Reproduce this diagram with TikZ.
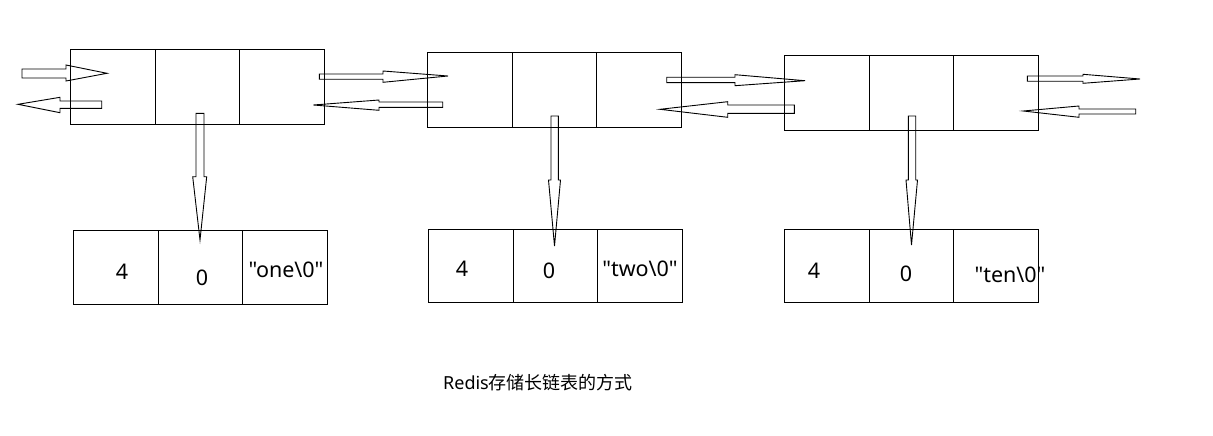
\documentclass[tikz,border=0pt]{standalone}
\usepackage{fontspec}
\setmainfont{Noto Sans}[Ligatures=TeXOff]
\newfontfamily\cjkfont{Noto Sans CJK SC}
\begin{document}
\begin{tikzpicture}[x=1pt,y=-1pt,
  cell/.style={draw,line width=1pt,rectangle,inner sep=0pt,outer sep=0pt,minimum width=84.5pt,minimum height=74pt},
  blk/.style={draw,line width=0.9pt,line join=miter},
  lbl/.style={inner sep=0pt,font=\fontsize{21.5}{24}\selectfont},
  captext/.style={inner sep=0pt,font=\fontsize{18}{21}\selectfont}]
\useasboundingbox[fill=white] (0,0) rectangle (1213,436);
% top row
\node[cell] (t11) at (113,87) {};
\node[cell] (t12) at (197.5,87) {};
\node[cell] (t13) at (282,87) {};
\node[cell] (t21) at (470,90) {};
\node[cell] (t22) at (554.5,90) {};
\node[cell] (t23) at (639,90) {};
\node[cell] (t31) at (827,93) {};
\node[cell] (t32) at (911.5,93) {};
\node[cell] (t33) at (996,93) {};
% bottom row
\node[cell] (b11) at (116,267) {};
\node[cell] (b12) at (200.5,267) {};
\node[cell] (b13) at (285,267) {};
\node[cell,minimum height=73pt] (b21) at (471,265.5) {};
\node[cell,minimum height=73pt] (b22) at (555.5,265.5) {};
\node[cell,minimum height=73pt] (b23) at (640,265.5) {};
\node[cell,minimum height=73pt] (b31) at (827,265.5) {};
\node[cell,minimum height=73pt] (b32) at (911.5,265.5) {};
\node[cell,minimum height=73pt] (b33) at (996,265.5) {};
% labels
\node[lbl] (l11) at (122,272) {4};
\node[lbl] (l12) at (202,278) {0};
\node[lbl] (l13) at (286,270) {"one\textbackslash 0"};
\node[lbl] (l21) at (462,269) {4};
\node[lbl] (l22) at (549,271) {0};
\node[lbl] (l23) at (640,269) {"two\textbackslash 0"};
\node[lbl] (l31) at (814,271) {4};
\node[lbl] (l32) at (906,274) {0};
\node[lbl] (l33) at (1010,275) {"ten\textbackslash 0"};
\node[captext] (caption) at (538,383) {Redis{\cjkfont 存储长链表的方式}};
% horizontal block arrows (right-pointing)
\draw[blk] (22,69) -- (66,69) -- (66,65) -- (107,73.3) -- (66,81) -- (66,78) -- (22,78) -- cycle;
\draw[blk] (319.3,74) -- (383,74) -- (383,71) -- (448,76) -- (383,82.3) -- (383,79.3) -- (319.3,79.3) -- cycle;
\draw[blk] (666.7,77.3) -- (735,77.3) -- (735,74.7) -- (805,80.7) -- (735,85.7) -- (735,82.7) -- (666.7,82.7) -- cycle;
\draw[blk] (1027.3,76) -- (1083,76) -- (1083,74.3) -- (1140,79) -- (1083,83.3) -- (1083,81.3) -- (1027.3,81.3) -- cycle;
% horizontal block arrows (left-pointing)
\draw[blk] (101.7,101) -- (60,101) -- (60,97.3) -- (18,104.3) -- (60,112.7) -- (60,108.3) -- (101.7,108.3) -- cycle;
\draw[blk] (442.7,102) -- (379,102) -- (379,100) -- (313.3,105) -- (379,110.3) -- (379,107.3) -- (442.7,107.3) -- cycle;
\draw[blk] (794.3,105) -- (727.7,105) -- (727.7,101.7) -- (660,109.3) -- (727.7,117.3) -- (727.7,113.3) -- (794.3,113.3) -- cycle;
\draw[blk] (1135.7,109) -- (1079,109) -- (1079,106) -- (1023.3,111) -- (1079,117.3) -- (1079,114) -- (1135.7,114) -- cycle;
% vertical block arrows
\draw[blk] (196,113.3) -- (196,176.7) -- (192.7,176.7) -- (200,240) -- (206.7,176.7) -- (204,176.7) -- (204,113.3) -- cycle;
\draw[blk] (551,116) -- (551,180) -- (548.5,180) -- (554.5,246) -- (560.5,180) -- (558.3,180) -- (558.3,116) -- cycle;
\draw[blk] (908.3,116) -- (908.3,180) -- (906,180) -- (911.5,245) -- (917.5,180) -- (915.7,180) -- (915.7,116) -- cycle;
\end{tikzpicture}
\end{document}
